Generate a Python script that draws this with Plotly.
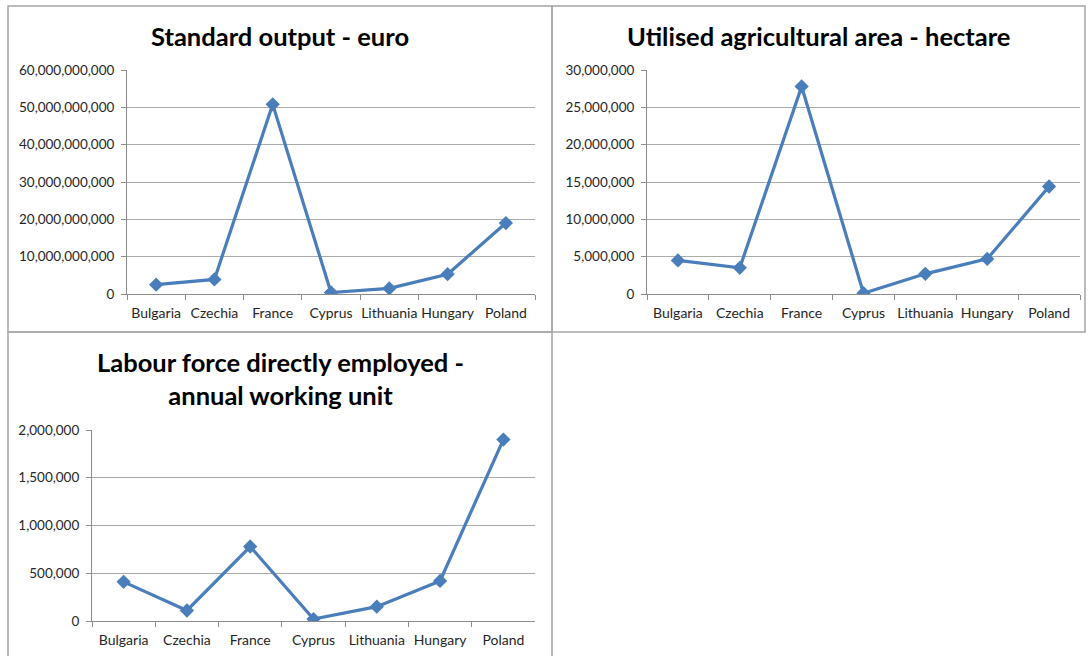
import plotly.graph_objects as go

countries = ["Bulgaria", "Czechia", "France", "Cyprus", "Lithuania", "Hungary", "Poland"]
standard_output = [2.5e9, 3.9e9, 50.8e9, 0.4e9, 1.5e9, 5.3e9, 19.0e9]
utilised_area = [4.5e6, 3.5e6, 27.8e6, 0.1e6, 2.7e6, 4.7e6, 14.4e6]
labour_force = [410000, 110000, 780000, 20000, 150000, 420000, 1900000]

titles = ["Standard output - euro", "Utilised agricultural area - hectare",
          "Labour force directly employed -<br>annual working unit"]

W, H = 1088, 656
LINE = "#4a7ebb"
GRID = "#ababab"
FONT = "Lato, Open Sans, sans-serif"

def px_x(v):
    return v / W

def px_y(v):
    return 1 - v / H

fig = go.Figure()

panels = [
    dict(data=standard_output, x0=127, x1=535, y0=70, y1=294, ymax=60e9, dtick=10e9,
         box=(8, 6, 552, 332), title_y=36, xa="x", ya="y"),
    dict(data=utilised_area, x0=647, x1=1080, y0=70, y1=294, ymax=30e6, dtick=5e6,
         box=(552, 6, 1085, 332), title_y=36, xa="x2", ya="y2"),
    dict(data=labour_force, x0=92, x1=535, y0=430, y1=621, ymax=2e6, dtick=5e5,
         box=(8, 332, 552, 680), title_y=378, xa="x3", ya="y3"),
]

layout_axes = {}
for i, p in enumerate(panels):
    suffix = "" if i == 0 else str(i + 1)
    fig.add_trace(go.Scatter(
        x=countries, y=p["data"], mode="lines+markers",
        line=dict(color=LINE, width=3.2),
        marker=dict(symbol="diamond", size=11, color=LINE),
        xaxis=p["xa"], yaxis=p["ya"], showlegend=False,
        hovertemplate="%{x}: %{y:,}<extra></extra>",
    ))
    layout_axes["xaxis" + suffix] = dict(
        domain=[px_x(p["x0"]), px_x(p["x1"])],
        anchor=p["ya"], type="category", categoryorder="array", categoryarray=countries,
        range=[-0.5, 6.5], tickson="boundaries", ticks="outside", ticklen=5,
        tickcolor="#8c8c8c", showline=True, linecolor="#8c8c8c", linewidth=1,
        showgrid=False, tickangle=0, ticklabelstandoff=6, automargin=False,
        tickfont=dict(family=FONT, size=14, color="#262626"),
        fixedrange=True,
    )
    layout_axes["yaxis" + suffix] = dict(
        domain=[px_y(p["y1"]), px_y(p["y0"])],
        anchor=p["xa"], range=[0, p["ymax"]], dtick=p["dtick"], tick0=0,
        tickformat=",d", ticks="outside", ticklen=5, tickcolor="#8c8c8c",
        showline=True, linecolor="#8c8c8c", linewidth=1, ticklabelstandoff=4,
        showgrid=True, gridcolor=GRID, gridwidth=1, zeroline=False, automargin=False,
        tickfont=dict(family=FONT, size=13.5, color="#262626"),
        fixedrange=True,
    )
    bx0, by0, bx1, by1 = p["box"]
    fig.add_shape(type="rect", xref="paper", yref="paper",
                  x0=px_x(bx0), x1=px_x(bx1), y0=px_y(by1), y1=px_y(by0),
                  line=dict(color="#a6a6a6", width=1.5), fillcolor="rgba(0,0,0,0)")
    cx = (bx0 + bx1) / 2 if i < 2 else 280
    fig.add_annotation(text="<b>" + titles[i] + "</b>", xref="paper", yref="paper",
                       x=px_x(cx), y=px_y(p["title_y"]), showarrow=False,
                       xanchor="center", yanchor="middle",
                       font=dict(family=FONT, size=25.5, color="#000000"))

fig.update_layout(
    width=W, height=H, margin=dict(l=0, r=0, t=0, b=0, pad=0, autoexpand=False),
    paper_bgcolor="white", plot_bgcolor="white",
    **layout_axes,
)

fig.write_html("out.html", config={"displayModeBar": False},
               post_script="document.body.style.margin='0';document.body.style.overflow='hidden';")
